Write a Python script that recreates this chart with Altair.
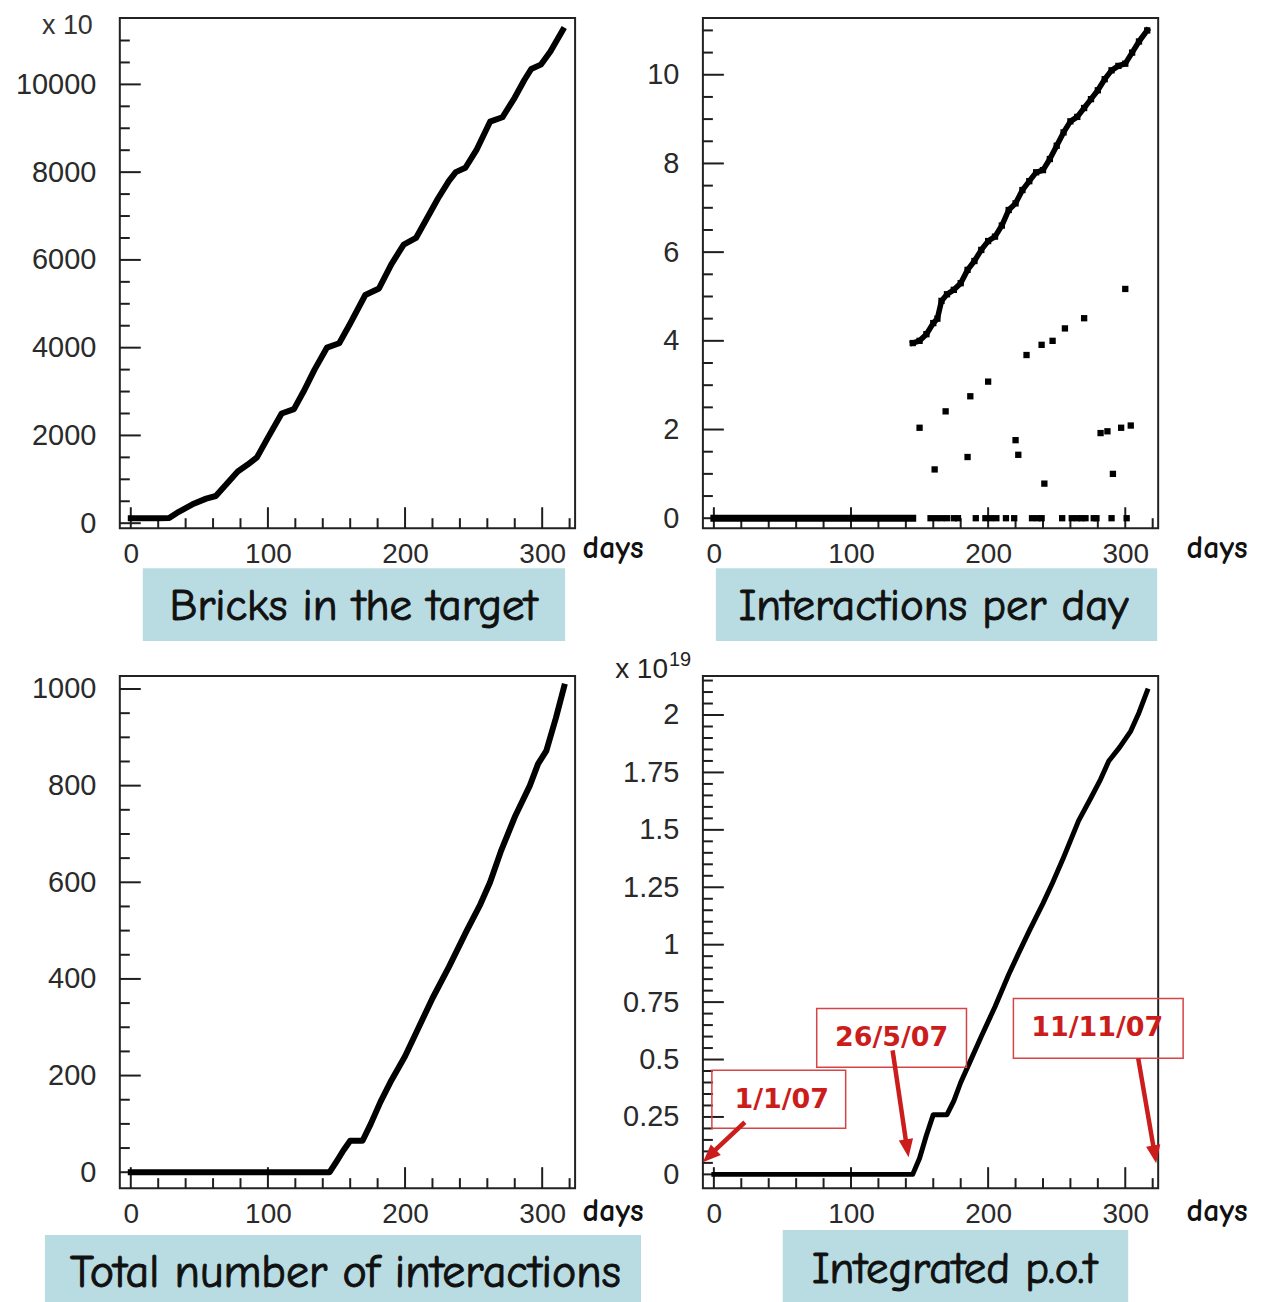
import altair as alt
import pandas as pd

# ---------------- data ----------------
# Panel 1: bricks in the target (x10) vs days
bricks_day = [0, 10, 20, 28, 35, 45, 55, 62, 70, 78, 85, 92, 100, 110, 119, 126, 134, 143, 152, 160,
              171, 181, 190, 199, 208, 216, 224, 232, 237, 244, 252, 262, 271, 280, 287, 292, 299, 306, 315]
bricks_val = [110, 110, 110, 120, 260, 430, 560, 620, 900, 1180, 1330, 1500, 1950, 2500, 2600, 3000, 3500, 4000, 4100, 4550,
              5200, 5350, 5900, 6350, 6500, 6950, 7400, 7800, 8000, 8100, 8500, 9150, 9250, 9700, 10100, 10350, 10450, 10750, 11235]

# Panel 2: interactions per day
ipd_day = [145, 150, 155, 160, 163, 166, 170, 175, 180, 185, 190, 195, 200, 205, 210, 215, 220, 225, 230, 235,
           240, 245, 250, 255, 260, 265, 270, 275, 280, 285, 290, 295, 300, 305, 310, 316]
ipd_val = [3.95, 4.0, 4.15, 4.4, 4.5, 4.9, 5.05, 5.15, 5.3, 5.6, 5.8, 6.05, 6.25, 6.35, 6.6, 6.95, 7.1, 7.4, 7.6, 7.8,
           7.85, 8.1, 8.4, 8.7, 8.95, 9.05, 9.25, 9.45, 9.65, 9.9, 10.1, 10.2, 10.25, 10.5, 10.75, 11.0]
ipd_sc_day = [150, 161, 169, 185, 187, 200, 220, 222, 228, 239, 241, 247, 256, 270, 282, 287, 291, 297, 300, 304]
ipd_sc_val = [2.04, 1.10, 2.41, 1.38, 2.75, 3.08, 1.76, 1.43, 3.68, 3.91, 0.78, 4.0, 4.28, 4.51, 1.92, 1.96, 1.0, 2.04, 5.17, 2.09]
ipd_zero_run_day = [0, 145]
ipd_zero_run_val = [0, 0]
ipd_zero_day = [158, 162, 166, 170, 175, 178, 191, 198, 202, 206, 213, 219, 232, 236, 239, 254, 261, 265, 268, 271,
                277, 279, 290, 301]
ipd_zero_val = [0.0] * len(ipd_zero_day)

# Panel 3: total number of interactions
tot_day = [0, 145, 150, 155, 160, 169, 175, 182, 190, 200, 210, 220, 232, 245, 255, 262, 270, 280, 291, 297, 303, 310, 316]
tot_val = [0, 0, 22, 45, 65, 65, 100, 145, 190, 240, 300, 360, 425, 500, 555, 600, 665, 735, 800, 845, 872, 940, 1005]

# Panel 4: integrated p.o.t (x 1e19)
pot_day = [0, 145, 150, 155, 160, 170, 175, 180, 186, 195, 205, 215, 222, 230, 240, 247, 255, 266, 275, 282,
           288, 296, 304, 310, 316]
pot_val = [0, 0, 0.07, 0.17, 0.26, 0.26, 0.32, 0.40, 0.48, 0.60, 0.73, 0.87, 0.96, 1.06, 1.18, 1.27, 1.38, 1.54, 1.64, 1.72,
           1.80, 1.86, 1.93, 2.01, 2.105]

# axis ticks
x_major = [0, 100, 200, 300]
x_minor = [20, 40, 60, 80, 120, 140, 160, 180, 220, 240, 260, 280, 320]
y1_major = [0, 2000, 4000, 6000, 8000, 10000]
y1_minor = [500, 1000, 1500, 2500, 3000, 3500, 4500, 5000, 5500, 6500, 7000, 7500, 8500, 9000, 9500, 10500, 11000]
y2_major = [0, 2, 4, 6, 8, 10]
y2_minor = [0.5, 1, 1.5, 2.5, 3, 3.5, 4.5, 5, 5.5, 6.5, 7, 7.5, 8.5, 9, 9.5, 10.5, 11]
y3_major = [0, 200, 400, 600, 800, 1000]
y3_minor = [50, 100, 150, 250, 300, 350, 450, 500, 550, 650, 700, 750, 850, 900, 950]
y4_major = [0, 0.25, 0.5, 0.75, 1, 1.25, 1.5, 1.75, 2]
y4_minor = [round(i * 0.05, 2) for i in range(1, 44) if i % 5 != 0]

captions = ["Bricks in the target", "Interactions per day", "Total number of interactions", "Integrated p.o.t"]
dates = ["1/1/07", "26/5/07", "11/11/07"]

# ---------------- styling ----------------
AXF = "Liberation Sans"
CAPF = "Comic Sans MS, Comic Neue, Noto Sans, sans-serif"
DATEF = "DejaVu Sans"
INK = "#1e1e1e"
CAPFILL = "#b8dce2"
RED = "#cc1d1d"
REDBOX = "#d64545"
W = 456
H_TOP = 511
H_BOT = 513
XDOM = [-8, 324]

one = pd.DataFrame({"k": [0]})


def X():
    return alt.X("x:Q", scale=alt.Scale(domain=XDOM, nice=False, zero=False),
                 axis=alt.Axis(values=x_major, ticks=False, tickSize=0, domain=False, grid=False,
                               labelFont=AXF, labelFontSize=28, labelColor="#2a2a2a", labelPadding=12,
                               labelOverlap=False, labelFlush=False, format="d", title=None))


def Y(dom, majors, fmt, pad=24):
    return alt.Y("y:Q", scale=alt.Scale(domain=dom, nice=False, zero=False),
                 axis=alt.Axis(values=majors, ticks=False, tickSize=0, domain=False, grid=False,
                               labelFont=AXF, labelFontSize=29, labelColor="#2a2a2a", labelPadding=pad,
                               labelOverlap=False, labelFlush=False, format=fmt, title=None))


def ticks(h, dom, ymaj, ymin, fmt):
    xa = alt.Chart(pd.DataFrame({"x": x_major})).mark_rule(color=INK, strokeWidth=2).encode(
        x=X(), y=alt.value(h), y2=alt.value(h - 21))
    xb = alt.Chart(pd.DataFrame({"x": x_minor})).mark_rule(color=INK, strokeWidth=2).encode(
        x=X(), y=alt.value(h), y2=alt.value(h - 10))
    ya = alt.Chart(pd.DataFrame({"y": ymaj})).mark_rule(color=INK, strokeWidth=2).encode(
        y=Y(dom, ymaj, fmt), x=alt.value(0), x2=alt.value(21))
    yb = alt.Chart(pd.DataFrame({"y": ymin})).mark_rule(color=INK, strokeWidth=2).encode(
        y=Y(dom, ymaj, fmt), x=alt.value(0), x2=alt.value(10))
    return [xa, xb, ya, yb]


def text(t, x, y, size, font=CAPF, color="#111", align="center", baseline="middle", weight="normal", sw=0):
    kw = dict(text=t, font=font, fontSize=size, color=color, align=align, baseline=baseline, fontWeight=weight)
    if sw:
        kw.update(stroke=color, strokeWidth=sw)
    return alt.Chart(one).mark_text(**kw).encode(x=alt.value(x), y=alt.value(y))


def caption(t, x, y, size):
    return text(t, x, y, size, sw=1.0)


def box(x1, x2, y1, y2, fill, stroke=None, sw=0, opacity=None):
    kw = dict(fill=fill)
    if stroke:
        kw.update(stroke=stroke, strokeWidth=sw)
    if opacity is not None:
        kw.update(opacity=opacity)
    return alt.Chart(one).mark_rect(**kw).encode(
        x=alt.value(x1), x2=alt.value(x2), y=alt.value(y1), y2=alt.value(y2))


def line(days, vals, dom, ymaj, fmt, sw=6):
    df = pd.DataFrame({"x": days, "y": vals})
    return alt.Chart(df).mark_line(color="black", strokeWidth=sw, strokeJoin="round",
                                   strokeCap="square").encode(x=X(), y=Y(dom, ymaj, fmt))


# ---------------- panel 1 ----------------
D1 = [-114, 11513]
# invisible full-page extent (fixes the page origin)
bg = box(-119, 1152, -16, 1286, "white", opacity=0)
p1 = alt.layer(
    bg,
    *ticks(H_TOP, D1, y1_major, y1_minor, "d"),
    line(bricks_day, bricks_val, D1, y1_major, "d", 6),
    box(23, 446, 551, 624, CAPFILL),
    caption(captions[0], 234, 589, 45),
    text("days", 494, 531, 32, weight="bold"),
    text("x 10", -27, 16, 27, font=AXF, color="#333", align="right", baseline="alphabetic"),
).properties(width=W, height=H_TOP)

# ---------------- panel 2 ----------------
D2 = [-0.225, 11.28]
sq = dict(shape="square", size=40, filled=True, color="black", opacity=1)
p2 = alt.layer(
    *ticks(H_TOP, D2, y2_major, y2_minor, "d"),
    line(ipd_zero_run_day, ipd_zero_run_val, D2, y2_major, "d", 7),
    line(ipd_day, ipd_val, D2, y2_major, "d", 5.5),
    alt.Chart(pd.DataFrame({"x": ipd_day, "y": ipd_val})).mark_point(**sq).encode(
        x=X(), y=Y(D2, y2_major, "d")),
    alt.Chart(pd.DataFrame({"x": ipd_sc_day, "y": ipd_sc_val})).mark_point(**sq).encode(
        x=X(), y=Y(D2, y2_major, "d")),
    alt.Chart(pd.DataFrame({"x": ipd_zero_day, "y": ipd_zero_val})).mark_point(**sq).encode(
        x=X(), y=Y(D2, y2_major, "d")),
    box(13, 455, 551, 624, CAPFILL),
    caption(captions[1], 231, 589, 45),
    text("days", 515, 531, 32, weight="bold"),
).properties(width=W, height=H_TOP)

# ---------------- panel 3 ----------------
D3 = [-33, 1027]
p3 = alt.layer(
    *ticks(H_BOT, D3, y3_major, y3_minor, "d"),
    line(tot_day, tot_val, D3, y3_major, "d", 6),
    box(-75, 522, 560, 627, CAPFILL),
    caption(captions[2], 226, 598, 46),
    text("days", 494, 536, 32, weight="bold"),
).properties(width=W, height=H_BOT)

# ---------------- panel 4 ----------------
D4 = [-0.06, 2.17]
ARROW = "M0,0L-0.8,-2L0.8,-2Z"


def arrow(x1, y1, xe, ye, xt, yt, ang):
    r = alt.Chart(one).mark_rule(color=RED, strokeWidth=4.5).encode(
        x=alt.value(x1), y=alt.value(y1), x2=alt.value(xe), y2=alt.value(ye))
    h = alt.Chart(one).mark_point(shape=ARROW, size=324, filled=True, color=RED, opacity=1,
                                  angle=ang).encode(x=alt.value(xt), y=alt.value(yt))
    return [r, h]


p4 = alt.layer(
    *ticks(H_BOT, D4, y4_major, y4_minor, ".3~g"),
    line(pot_day, pot_val, D4, y4_major, ".3~g", 5),
    box(9, 143, 395, 453, "transparent", REDBOX, 1.5),
    box(114, 264, 333, 392, "transparent", REDBOX, 1.5),
    box(311, 481, 323, 383, "transparent", REDBOX, 1.5),
    text(dates[0], 79, 425, 27, font=DATEF, color=RED, weight="bold"),
    text(dates[1], 189, 363, 27, font=DATEF, color=RED, weight="bold"),
    text(dates[2], 395, 353, 27, font=DATEF, color=RED, weight="bold"),
    *arrow(42, 447, 9, 478, 0, 487, 46),
    *arrow(190, 375, 204, 470, 206, 482, 351.5),
    *arrow(436, 383, 452, 476, 454, 488, 350.4),
    box(80, 426, 555, 627, CAPFILL),
    caption(captions[3], 252, 594, 45),
    text("days", 515, 536, 32, weight="bold"),
    text("x 10", -35, 2, 28, font=AXF, color="#222", align="right", baseline="alphabetic"),
    text("19", -34, -10, 20, font=AXF, color="#222", align="left", baseline="alphabetic"),
).properties(width=W, height=H_BOT)

chart = alt.concat(
    p1, p2, p3, p4, columns=2, spacing={"row": 148, "column": 128}, bounds="flush"
).resolve_scale(x="independent", y="independent").properties(padding=0).configure(
    background="white").configure_view(stroke="#222", strokeWidth=2, fill="white")

chart.save("out.html", embed_options={"renderer": "svg", "actions": False})
